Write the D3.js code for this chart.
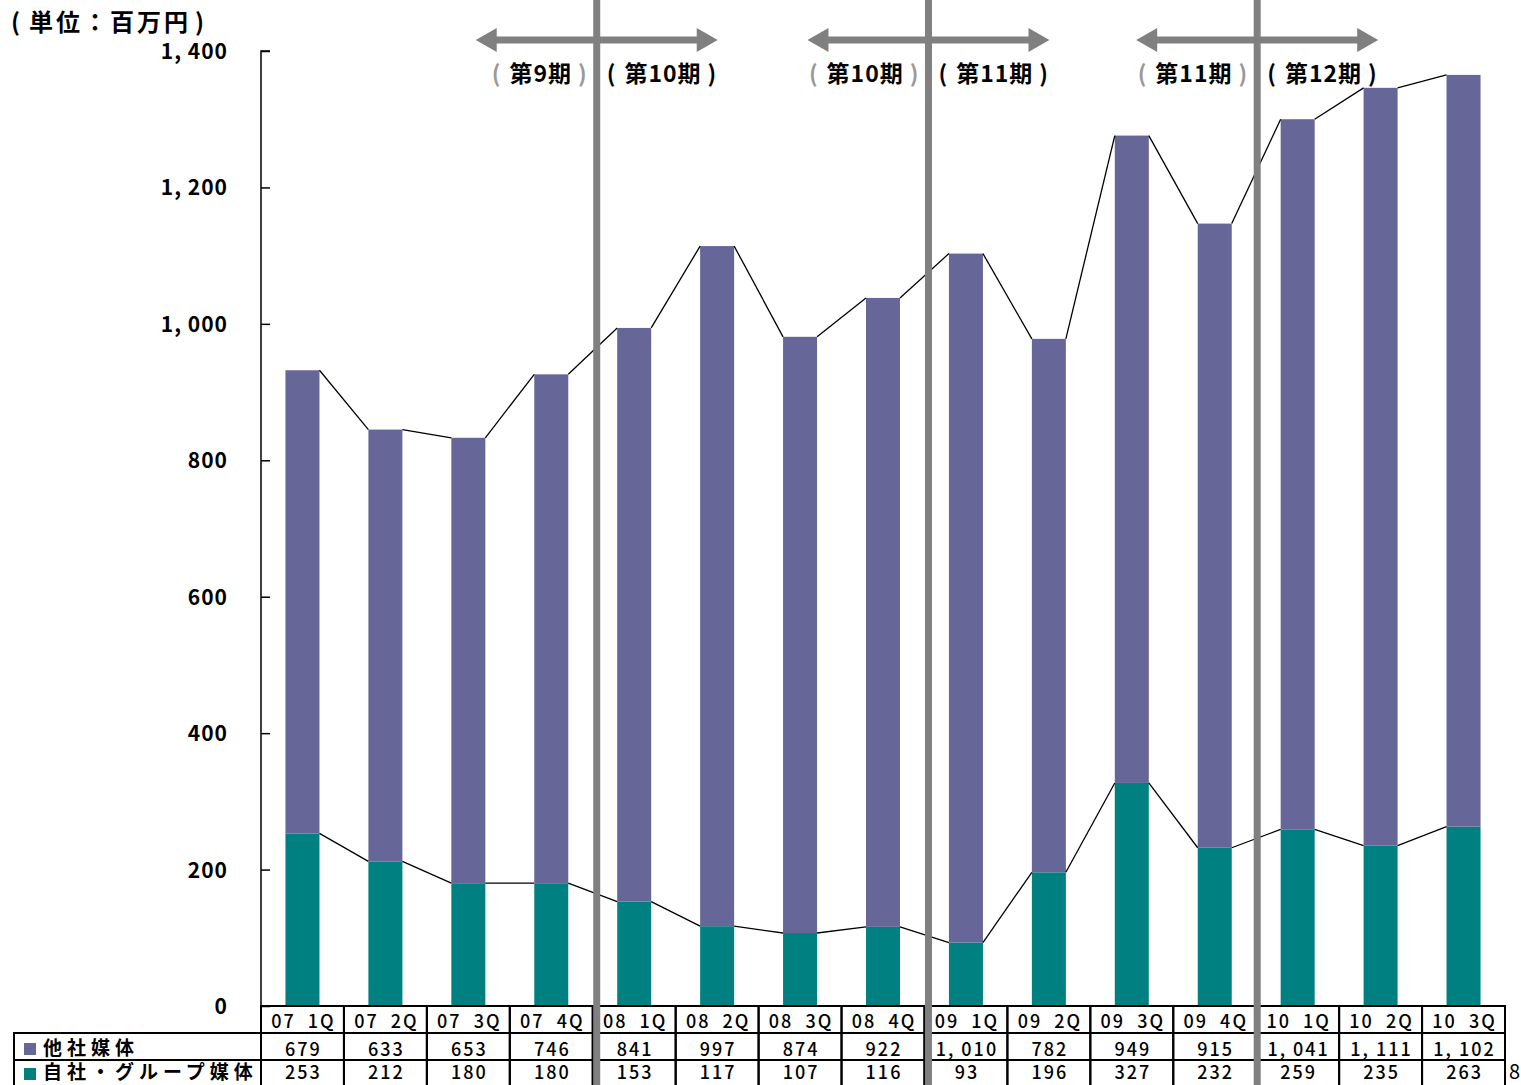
<!DOCTYPE html>
<html lang="ja">
<head>
    <meta charset="UTF-8">
    <title>媒体別売上推移</title>
    <script src="https://cdnjs.cloudflare.com/ajax/libs/d3/7.8.5/d3.min.js"></script>
    <style>
        body {
            margin: 0;
            background: #fff;
        }

        svg text {
            font-family: "Noto Sans CJK JP", sans-serif;
            font-weight: bold;
            fill: #000;
        }

        .series-line {
            fill: none;
            stroke: #000;
            stroke-width: 1.3px;
        }

        .grid-cell {
            fill: none;
            stroke: #000;
            stroke-width: 2px;
        }
    </style>
</head>
<body>
<svg id="chart"></svg>

<script>
    // data
    const categories = ["07  1Q", "07  2Q", "07  3Q", "07  4Q", "08  1Q", "08  2Q", "08  3Q", "08  4Q",
        "09  1Q", "09  2Q", "09  3Q", "09  4Q", "10  1Q", "10  2Q", "10  3Q"];
    const otherMedia = [679, 633, 653, 746, 841, 997, 874, 922, 1010, 782, 949, 915, 1041, 1111, 1102];
    const ownMedia = [253, 212, 180, 180, 153, 117, 107, 116, 93, 196, 327, 232, 259, 235, 263];
    const seriesNames = ["他社媒体", "自社・グループ媒体"];
    const yTicks = [0, 200, 400, 600, 800, 1000, 1200, 1400];
    // fiscal period boundaries: index of the first quarter of the new period
    const periodBreaks = [4, 8, 12];
    const periodLabels = [["第9期", "第10期"], ["第10期", "第11期"], ["第11期", "第12期"]];
    const unitLabel = "単位：百万円";

    const width = 1521, height = 1085;
    const colors = {other: "#666699", own: "#008080", divider: "#808080"};

    const svg = d3.select("#chart").attr("width", width).attr("height", height);

    const x = d3.scaleBand().domain(categories).range([261, 1505]);
    const y = d3.scaleLinear().domain([0, 1400]).range([1006, 51]);
    const barW = x.bandwidth() * 0.41;
    const barX = c => x(c) + (x.bandwidth() - barW) / 2;

    // commas as in the original: "1, 400"
    const fmt = v => d3.format(",")(v).replace(",", ", ");

    const rows = categories.map((c, i) => ({cat: c, own: ownMedia[i], other: otherMedia[i], total: ownMedia[i] + otherMedia[i]}));

    // bars
    svg.append("g").selectAll("rect")
        .data(rows)
        .join("rect")
        .attr("x", d => barX(d.cat))
        .attr("width", barW)
        .attr("y", d => y(d.own))
        .attr("height", d => y(0) - y(d.own))
        .attr("fill", colors.own);

    svg.append("g").selectAll("rect")
        .data(rows)
        .join("rect")
        .attr("x", d => barX(d.cat))
        .attr("width", barW)
        .attr("y", d => y(d.total))
        .attr("height", d => y(d.own) - y(d.total))
        .attr("fill", colors.other);

    // series lines between bar corners (Excel style)
    const lines = svg.append("g");
    ["own", "total"].forEach(key => {
        lines.append("g").selectAll("line")
            .data(d3.pairs(rows))
            .join("line")
            .attr("class", "series-line")
            .attr("x1", ([a]) => barX(a.cat) + barW)
            .attr("y1", ([a]) => y(a[key]))
            .attr("x2", ([, b]) => barX(b.cat))
            .attr("y2", ([, b]) => y(b[key]));
    });

    // y axis
    const yAxis = svg.append("g")
        .attr("transform", `translate(${x.range()[0]},0)`)
        .call(d3.axisRight(y).tickValues(yTicks).tickSize(9).tickFormat(""));
    yAxis.select(".domain").attr("stroke", "#000").attr("stroke-width", 1.5)
        .attr("d", `M9,${y(1400)}H0V${y(0)}`);
    yAxis.selectAll(".tick line").attr("stroke", "#000").attr("stroke-width", 1.5);

    svg.append("g").selectAll("text")
        .data(yTicks)
        .join("text")
        .attr("x", 228)
        .attr("y", d => y(d) + 8)
        .attr("text-anchor", "end")
        .style("font-size", "21px")
        .style("letter-spacing", "1px")
        .text(d => fmt(d));

    // "(unit)" label with roomy parentheses like the original
    const unit = svg.append("text")
        .attr("x", 11)
        .attr("y", 31)
        .style("font-size", "24px")
        .style("letter-spacing", "3px");
    unit.append("tspan").text("(");
    unit.append("tspan").attr("dx", 6).text(unitLabel);
    unit.append("tspan").attr("dx", 4).text(")");

    // data table below the plot
    const rowH = 27;
    const tableTop = y(0);
    const textBase = [22, 23, 19];
    const table = svg.append("g");

    const cellText = (row, vals, fmtFn) => {
        table.append("g").selectAll("text")
            .data(categories)
            .join("text")
            .attr("x", c => x(c) + x.bandwidth() / 2 + 1)
            .attr("y", tableTop + row * rowH + textBase[row])
            .attr("text-anchor", "middle")
            .style("font-size", "18px")
            .style("font-weight", "500")
            .style("letter-spacing", "2px")
            .style("white-space", "pre")
            .text((c, i) => fmtFn(vals[i]));
    };

    table.append("g").selectAll("rect")
        .data(categories)
        .join("rect")
        .attr("class", "grid-cell")
        .attr("x", c => x(c))
        .attr("y", tableTop)
        .attr("width", x.bandwidth())
        .attr("height", rowH * 3);

    [1, 2].forEach(r => {
        table.append("line")
            .attr("class", "grid-cell")
            .attr("x1", 14).attr("x2", x.range()[1])
            .attr("y1", tableTop + r * rowH).attr("y2", tableTop + r * rowH);
    });
    table.append("rect")
        .attr("class", "grid-cell")
        .attr("x", 14).attr("y", tableTop + rowH)
        .attr("width", x.range()[0] - 14).attr("height", rowH * 2);

    cellText(0, categories, v => v);
    cellText(1, otherMedia, fmt);
    cellText(2, ownMedia, fmt);

    [colors.other, colors.own].forEach((col, i) => {
        table.append("rect")
            .attr("x", 24).attr("y", tableTop + (i + 1) * rowH + 10 - i * 2)
            .attr("width", 12).attr("height", 12)
            .attr("fill", col);
        table.append("text")
            .attr("x", 43).attr("y", tableTop + (i + 1) * rowH + 22 - i * 3)
            .style("font-size", "19px")
            .style("letter-spacing", "5px")
            .text(seriesNames[i]);
    });

    // fiscal period dividers, arrows and labels
    const dividers = svg.append("g");
    const periodText = (parent, label, parenColor) => {
        parent.append("tspan").style("fill", parenColor).text("(");
        parent.append("tspan").attr("dx", 8).text(label);
        parent.append("tspan").attr("dx", 6).style("fill", parenColor).text(")");
    };
    periodBreaks.forEach((b, i) => {
        const lx = x(categories[b]) + (i < 2 ? 4 : 1);
        dividers.append("rect")
            .attr("x", lx - 3.5).attr("y", 0)
            .attr("width", 7).attr("height", height)
            .attr("fill", colors.divider);

        const half = 121, head = 21, shaft = 3.5, hh = 12;
        const ay = 40;
        dividers.append("path")
            .attr("fill", colors.divider)
            .attr("d", `M${lx - half},${ay}L${lx - half + head},${ay - hh}V${ay - shaft}H${lx + half - head}` +
                `V${ay - hh}L${lx + half},${ay}L${lx + half - head},${ay + hh}V${ay + shaft}` +
                `H${lx - half + head}V${ay + hh}Z`);

        const left = dividers.append("text")
            .attr("x", lx - 9).attr("y", 82)
            .attr("text-anchor", "end")
            .style("font-size", "23px")
            .style("letter-spacing", "1px");
        periodText(left, periodLabels[i][0], "#999");

        const right = dividers.append("text")
            .attr("x", lx + 10).attr("y", 82)
            .style("font-size", "23px")
            .style("letter-spacing", "1px");
        periodText(right, periodLabels[i][1], "#000");
    });

    // page number at the right edge of the slide
    svg.append("text")
        .attr("x", 1509).attr("y", 1079)
        .style("font-size", "20px")
        .style("font-weight", "normal")
        .text("8");
</script>
</body>
</html>
